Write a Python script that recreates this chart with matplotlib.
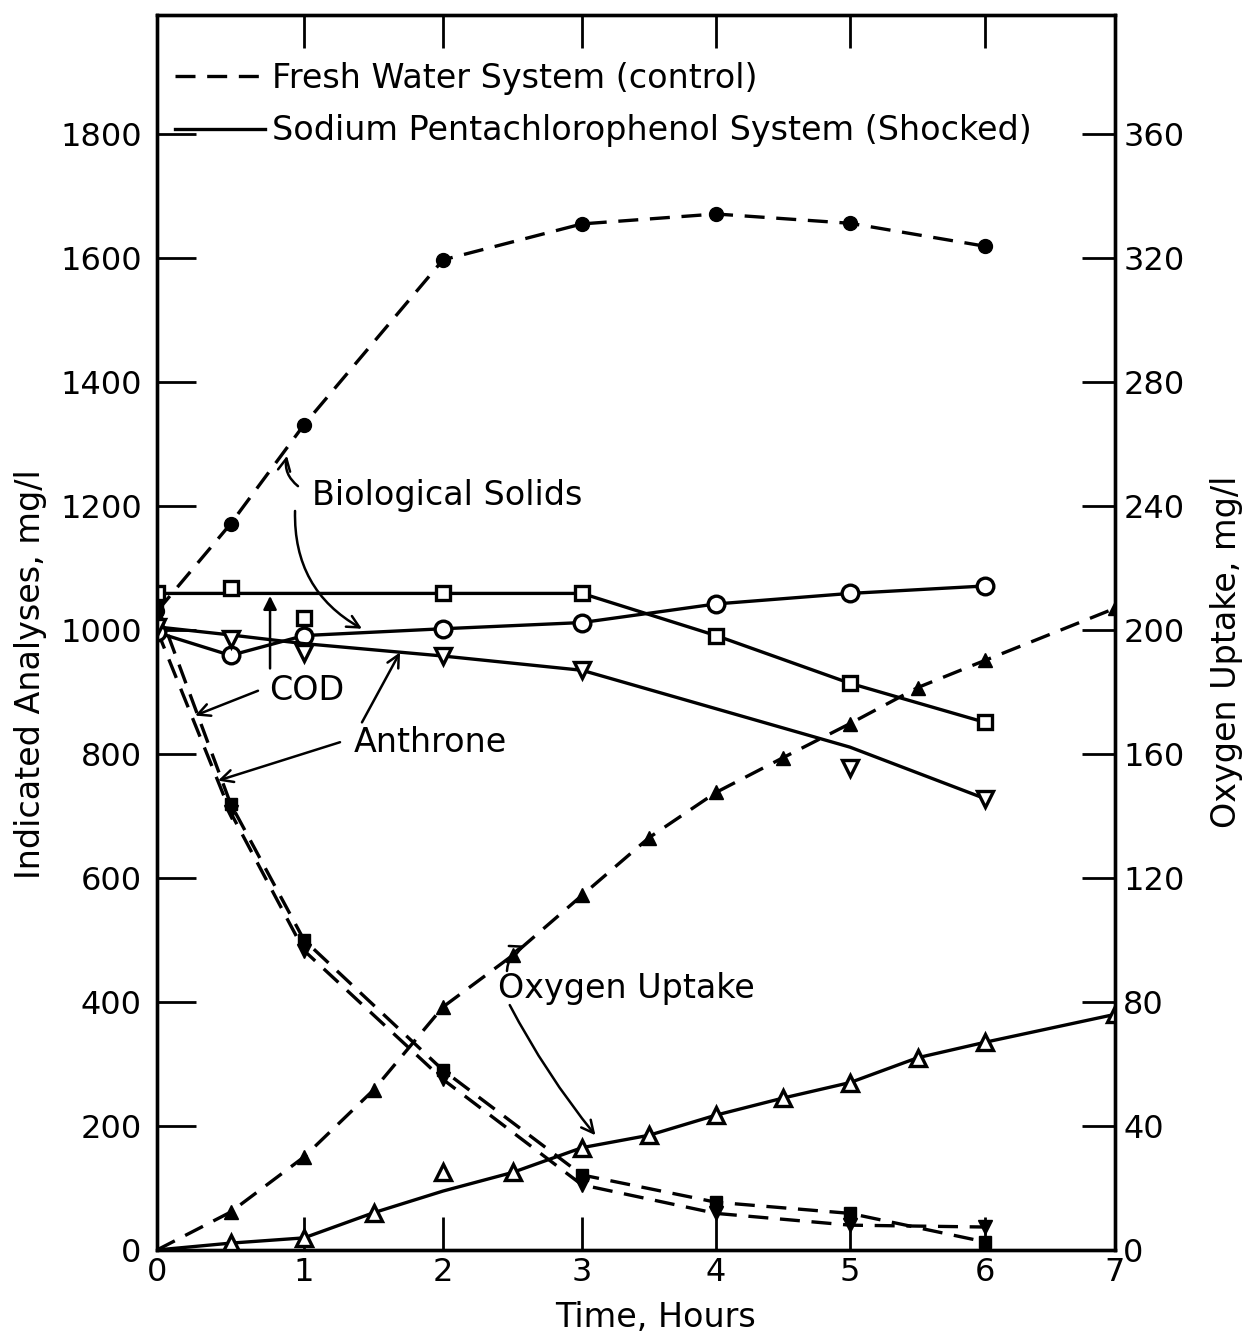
import numpy as np
import matplotlib
matplotlib.use("Agg")
import matplotlib.pyplot as plt
from matplotlib.lines import Line2D

nan = np.nan

# sampling times, hours
hours = [0, 0.5, 1, 2, 3, 4, 5, 6]
o2_hours = [0, 0.5, 1, 1.5, 2, 2.5, 3, 3.5, 4, 4.5, 5, 5.5, 6, 7]

# fresh water system (control), mg/l
fresh_solids = [1030, 1171, 1331, 1597, 1655, 1671, 1656, 1619]
fresh_cod = [1040, 720, 500, 290, 121, 77, 59, 13]
fresh_anthrone = [1000, 706, 483, 275, 105, 59, 40, 37]
fresh_o2 = [0, 12.2, 30, 51.6, 78.4, 95, 114.4, 133, 147.6, 158.8, 169.8, 181.4, 190.2, 207]

# sodium pentachlorophenol system (shocked), mg/l
shock_solids = [996, 959, 991, 1002, 1012, 1042, 1059, 1071]
shock_cod = [1059, 1068, 1020, 1059, 1059, 991, 914, 851]
shock_cod_fit = [1059, 1059, 1059, 1059, 1059, 991, 914, 851]
shock_anthrone = [1005, 986, 963, 958, 935, nan, 778, 728]
shock_anthrone_fit = [1005, 992, 978, 958, 935, 873, 811, 728]
shock_o2 = [0, 2.2, 3.9, 12, 25, 25, 33, 37, 43.5, 49, 54, 62, 67, 76]
shock_o2_fit = [0, 2.2, 3.9, 12, 19, 25, 33, 37, 43.5, 49, 54, 62, 67, 76]

left_ticks = list(range(0, 1801, 200))
right_ticks = list(range(0, 361, 40))
hour_ticks = [0, 1, 2, 3, 4, 5, 6, 7]
# the hour ticks were ruled by hand, not quite evenly
hour_tick_pos = [157, 304, 443, 582, 716, 850, 985, 1115]


def hours_fwd(x):
    return np.interp(x, hour_ticks, hour_tick_pos)


def hours_inv(p):
    return np.interp(p, hour_tick_pos, hour_ticks)


plt.rcParams["font.family"] = "DejaVu Sans"

fig = plt.figure(figsize=(12.52, 13.37), dpi=100)
ax = fig.add_axes([0.1254, 0.0651, 0.7652, 0.9237])
ax.set_xscale("function", functions=(hours_fwd, hours_inv))
ax2 = ax.twinx()

lw = 2.4
dash = (0, (6, 3.5))
k = "black"

# control system, dashed
ax.plot(hours, fresh_solids, color=k, lw=lw, ls=dash, marker="o", ms=10, mfc=k)
ax.plot(hours, fresh_cod, color=k, lw=lw, ls=dash, marker="s", ms=9, mfc=k)
ax.plot(hours, fresh_anthrone, color=k, lw=lw, ls=dash, marker="v", ms=10, mfc=k)
ax2.plot(o2_hours, fresh_o2, color=k, lw=lw, ls=dash, marker="^", ms=10, mfc=k,
         markevery=slice(1, None))

# shocked system, solid
ax.plot(hours, shock_solids, color=k, lw=lw, marker="o", ms=12, mfc="white", mew=2.4)
ax.plot(hours, shock_cod_fit, color=k, lw=lw)
ax.plot(hours, shock_cod, ls="none", color=k, marker="s", ms=10, mfc="white", mew=2.4)
ax.plot(hours, shock_anthrone_fit, color=k, lw=lw)
ax.plot(hours, shock_anthrone, ls="none", color=k, marker="v", ms=12, mfc="white", mew=2.4)
ax2.plot(o2_hours, shock_o2_fit, color=k, lw=lw)
ax2.plot(o2_hours[1:], shock_o2[1:], ls="none", color=k, marker="^", ms=11,
         mfc="white", mew=2.4)

ax.set_xlim(0, 7)
ax.set_ylim(0, 1992)
ax2.set_ylim(0, 1992 / 5)

ax.set_xticks(hour_ticks)
ax.set_xticklabels([str(h) for h in hour_ticks])
ax.set_yticks(left_ticks)
ax2.set_yticks(right_ticks)

ax.tick_params(axis="x", direction="in", length=24, width=2, top=True, labelsize=23, pad=5)
ax.tick_params(axis="y", direction="in", length=28, width=2, labelsize=23, pad=11)
ax2.tick_params(axis="y", direction="in", length=24, width=2, labelsize=23, pad=6)

# no tick marks on the corners
xt = ax.xaxis.get_major_ticks()
for t in (xt[0], xt[-1]):
    t.tick1line.set_visible(False)
    t.tick2line.set_visible(False)

for a in (ax, ax2):
    for s in a.spines.values():
        s.set_linewidth(2.4)

ax.set_xlabel("Time, Hours", fontsize=24)
ax.xaxis.set_label_coords(0.52, -0.041)
ax.set_ylabel("Indicated Analyses, mg/l", fontsize=24)
ax.yaxis.set_label_coords(-0.115, 0.466)
ax2.set_ylabel("Oxygen Uptake, mg/l", fontsize=24)
ax2.yaxis.set_label_coords(1.099, 0.484)

handles = [Line2D([], [], color=k, lw=lw, ls=dash),
           Line2D([], [], color=k, lw=lw)]
ax2.legend(handles, ["Fresh Water System (control)",
                     "Sodium Pentachlorophenol System (Shocked)"],
           loc="upper left", bbox_to_anchor=(0.019, 0.962), frameon=False,
           fontsize=24, handlelength=2.7, handletextpad=0.2, labelspacing=0.58,
           borderpad=0, borderaxespad=0)

arrow = dict(arrowstyle="->", color=k, lw=1.8, shrinkA=0, shrinkB=0,
             mutation_scale=22)
fs = 24

ax.text(2.03, 1217, "Biological Solids", fontsize=fs, ha="center", va="center")
ax.annotate("", xy=(0.884, 1281), xytext=(0.959, 1232),
            arrowprops=dict(arrow, connectionstyle="arc3,rad=-0.3"))
ax.annotate("", xy=(1.417, 1002), xytext=(0.939, 1192),
            arrowprops=dict(arrow, connectionstyle="arc3,rad=0.3"))

ax.text(1.02, 902, "COD", fontsize=fs, ha="center", va="center")
ax.annotate("", xy=(0.769, 1055), xytext=(0.769, 938),
            arrowprops=dict(arrow, arrowstyle="-|>", mutation_scale=20))
ax.annotate("", xy=(0.259, 862), xytext=(0.687, 902), arrowprops=arrow)

ax.text(1.906, 819, "Anthrone", fontsize=fs, ha="center", va="center")
ax.annotate("", xy=(1.691, 964), xytext=(1.417, 851), arrowprops=arrow)
ax.annotate("", xy=(0.415, 757), xytext=(1.259, 819), arrowprops=arrow)

ax.text(3.33, 422, "Oxygen Uptake", fontsize=fs, ha="center", va="center")
ax.annotate("", xy=(2.59, 491), xytext=(2.46, 450),
            arrowprops=dict(arrow, connectionstyle="arc3,rad=-0.3"))
ax.annotate("", xy=(3.10, 185), xytext=(2.48, 395),
            arrowprops=dict(arrow, connectionstyle="arc3,rad=0.05"))

fig.savefig("out.png", dpi=100)
